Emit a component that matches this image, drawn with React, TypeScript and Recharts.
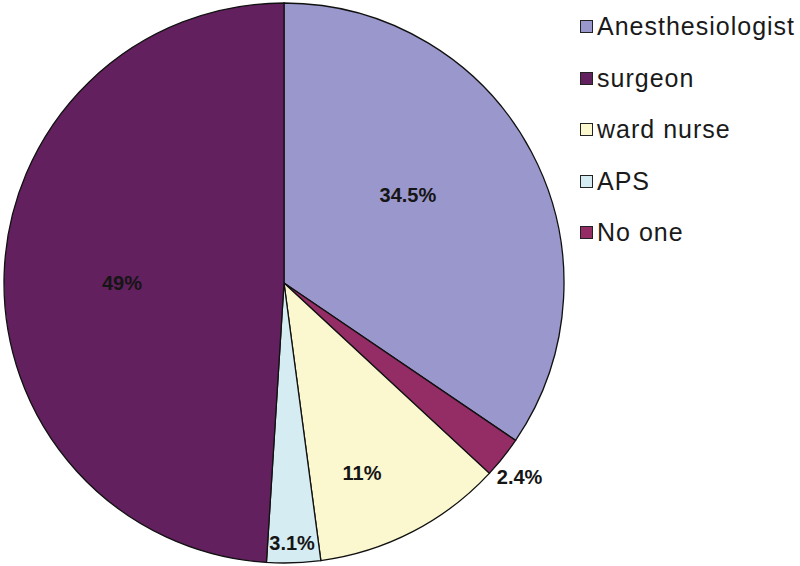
import { PieChart, Pie, Cell } from "recharts";

const categories = ["Anesthesiologist", "No one", "ward nurse", "APS", "surgeon"];
const shares = [34.5, 2.4, 11, 3.1, 49];
const shareLabels = ["34.5%", "2.4%", "11%", "3.1%", "49%"];
const legendOrder = ["Anesthesiologist", "surgeon", "ward nurse", "APS", "No one"];

const colors: Record<string, string> = {
  Anesthesiologist: "#9a97cc",
  surgeon: "#63205f",
  "ward nurse": "#fbf8cf",
  APS: "#d5ecf3",
  "No one": "#942c66",
};

// label placement tweaks (radius, angle offset in degrees) to mimic the original layout
const labelPlacement = [
  { r: 152, da: 7.5 },
  { r: 305, da: -0.9 },
  { r: 205, da: -5 },
  { r: 260, da: -0.2 },
  { r: 162, da: 1.8 },
];

const data = categories.map((name, i) => ({ name, value: shares[i], label: shareLabels[i] }));

const RAD = Math.PI / 180;
const FONT = "'Liberation Sans', Arial, sans-serif";

const renderLabel = (props: any) => {
  const { cx, cy, midAngle, index } = props;
  const p = labelPlacement[index];
  const a = (midAngle + p.da) * RAD;
  const x = cx + p.r * Math.cos(a);
  const y = cy - p.r * Math.sin(a);
  return (
    <text
      x={x}
      y={y}
      textAnchor="middle"
      dominantBaseline="central"
      fontFamily={FONT}
      fontWeight="bold"
      fontSize={20}
      fill="#151515"
    >
      {data[index].label}
    </text>
  );
};

export default function App() {
  return (
    <div style={{ position: "absolute", left: 0, top: 0, width: 800, height: 566, background: "#fff" }}>
      <PieChart width={800} height={566} margin={{ top: 0, right: 0, bottom: 0, left: 0 }}>
        <Pie
          data={data}
          dataKey="value"
          nameKey="name"
          cx={284}
          cy={283}
          outerRadius={280}
          startAngle={90}
          endAngle={-270}
          stroke="#111"
          strokeWidth={1.3}
          label={renderLabel}
          labelLine={false}
          isAnimationActive={false}
        >
          {data.map((d) => (
            <Cell key={d.name} fill={colors[d.name]} />
          ))}
        </Pie>
      </PieChart>
      <div
        style={{
          position: "absolute",
          left: 580,
          top: 1,
          fontFamily: FONT,
          fontSize: 25,
          letterSpacing: 1,
          color: "#1a1a1a",
        }}
      >
        {legendOrder.map((name) => (
          <div key={name} style={{ display: "flex", alignItems: "center", height: 51.5 }}>
            <span
              style={{
                display: "inline-block",
                width: 11,
                height: 11,
                background: colors[name],
                border: "1px solid #222",
                marginRight: 4,
              }}
            />
            <span>{name}</span>
          </div>
        ))}
      </div>
    </div>
  );
}
